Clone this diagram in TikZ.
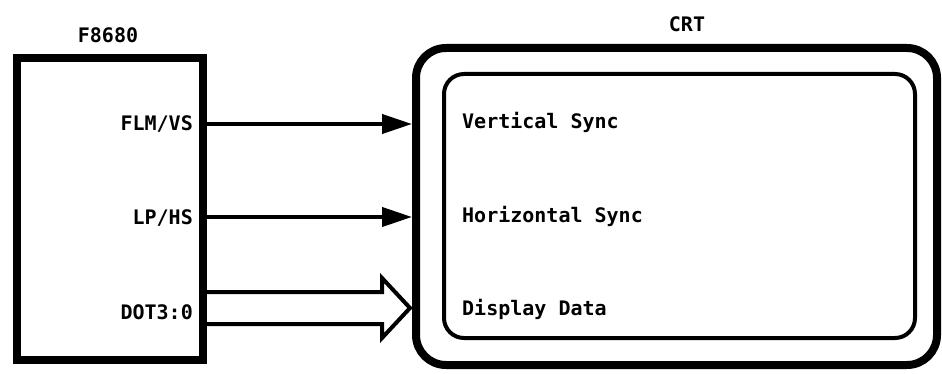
\documentclass[tikz,border=0pt]{standalone}
\usepackage{fontspec}
\setmonofont{DejaVu Sans Mono}
\usetikzlibrary{arrows.meta,calc}
\tikzset{
	lbl/.style={font=\ttfamily\bfseries\fontsize{20}{20}\selectfont,inner sep=0pt},
	sig/.style={line width=4pt,-{Triangle[length=30pt,width=19pt]}},
	bus/.style={line width=4pt,line join=miter}
}
\begin{document}
\begin{tikzpicture}[x=1pt,y=-1pt]
	\useasboundingbox (0,0) rectangle (942,374);
	% chip and crt
	\node[draw,line width=8pt,minimum width=186pt,minimum height=301.5pt,inner sep=0pt] (chip) at (109.5,208.75) {};
	\node[draw,line width=8pt,rounded corners=30pt,minimum width=521pt,minimum height=317pt,inner sep=0pt] (crt) at (676.5,206.5) {};
	\node[draw,line width=4pt,rounded corners=20pt,minimum width=471pt,minimum height=264pt,inner sep=0pt] (screen) at (679.5,206) {};
	\node[lbl] (chiptitle) at (108,35) {F8680};
	\node[lbl] (crttitle) at (687,24) {CRT};
	% pins
	\node[lbl,anchor=base east] (flm) at (193,131) {FLM/VS};
	\node[lbl,anchor=base east] (lp) at (193,224) {LP/HS};
	\node[lbl,anchor=base east] (dot) at (193,319) {DOT3:0};
	\node[lbl,anchor=base west] (vsync) at (462,129) {Vertical Sync};
	\node[lbl,anchor=base west] (hsync) at (462,222.5) {Horizontal Sync};
	\node[lbl,anchor=base west] (ddata) at (462,315.5) {Display Data};
	% signals
	\coordinate (pvs) at (202,124);
	\coordinate (phs) at (202,217);
	\coordinate (dtip) at (410,308);
	\draw[sig] (pvs) -- (crt.west |- pvs);
	\draw[sig] (phs) -- (crt.west |- phs);
	\draw[bus] (chip.east |- 0,292) -- ($(dtip)+(-28,-16)$) -- ($(dtip)+(-28,-30)$) -- (dtip)
		-- ($(dtip)+(-28,30)$) -- ($(dtip)+(-28,16)$) -- (chip.east |- 0,324);
\end{tikzpicture}
\end{document}
